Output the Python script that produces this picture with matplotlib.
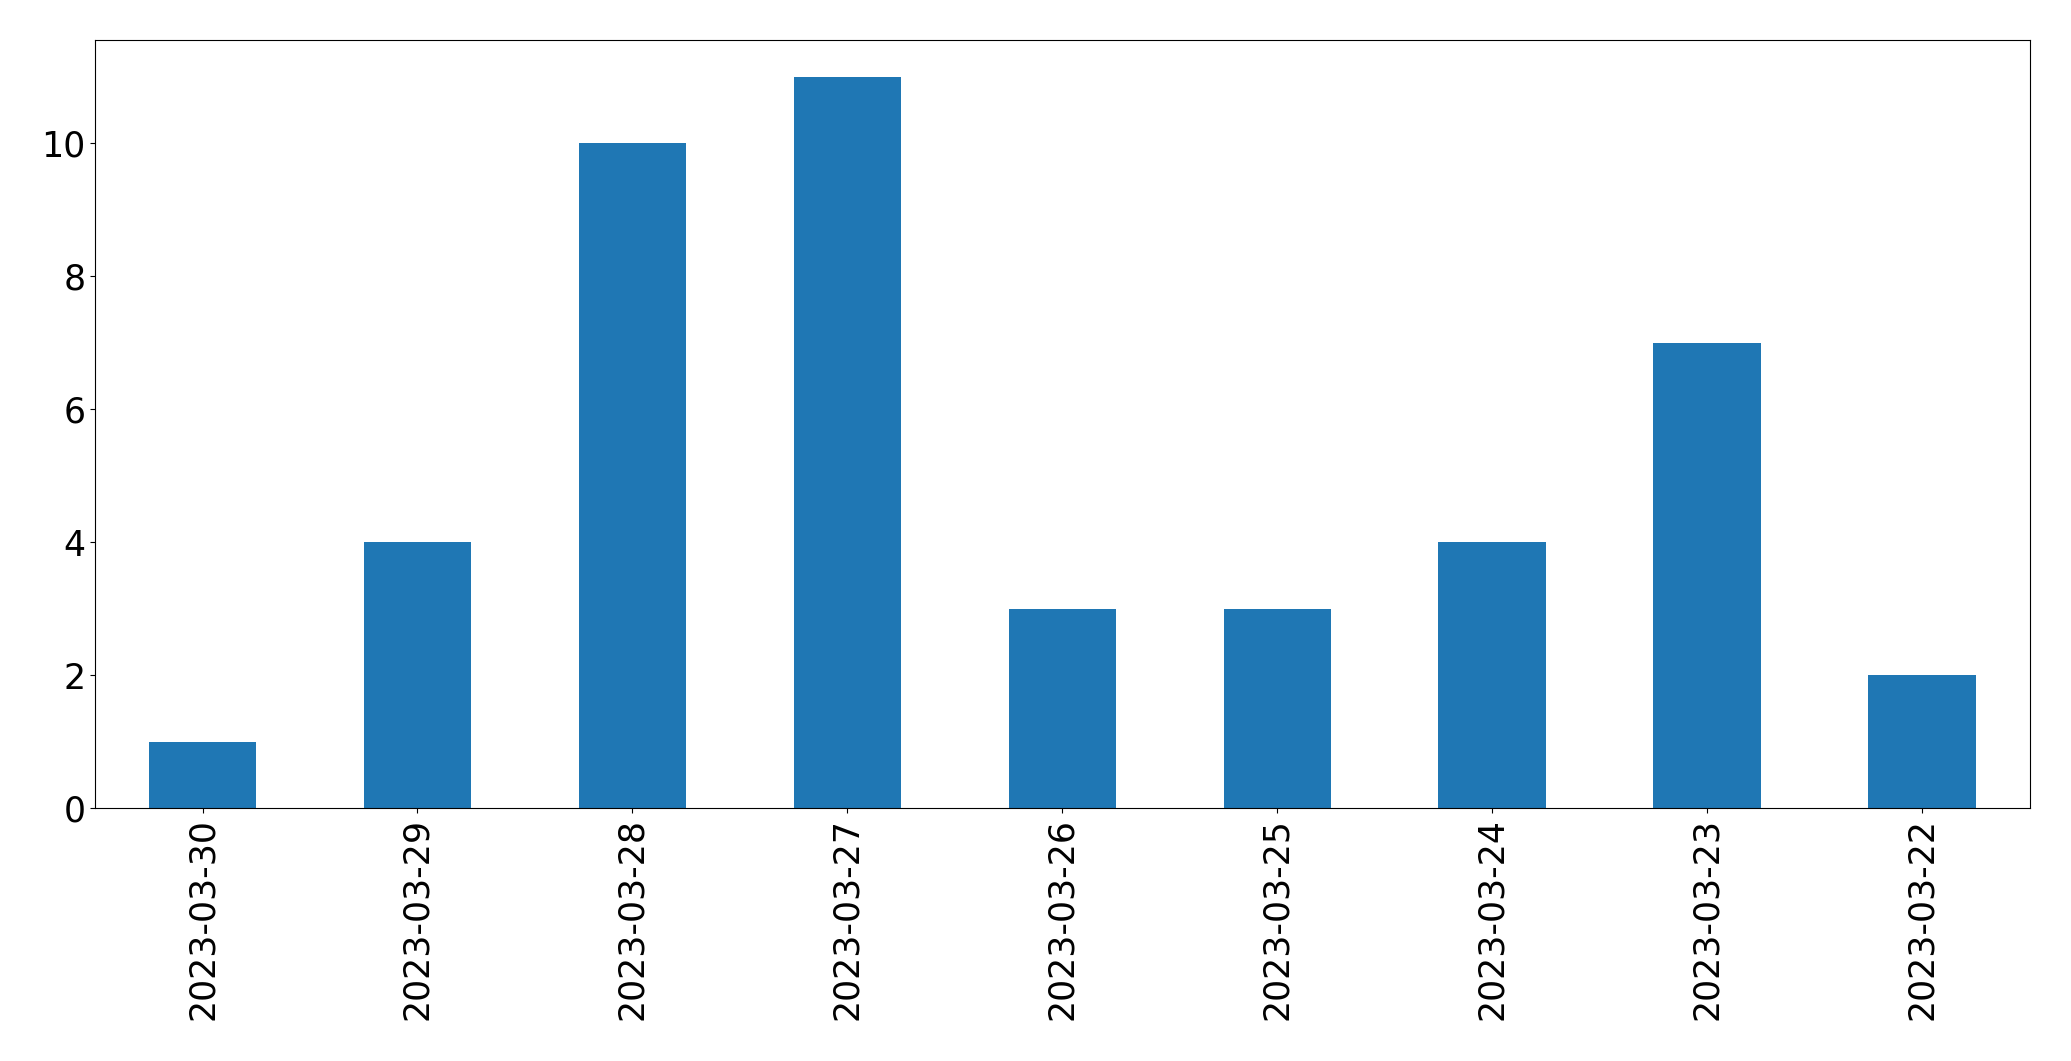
import matplotlib
matplotlib.use('Agg')
import matplotlib.pyplot as plt
import pandas as pd

# 每天的数量
dates = ['2023-03-30', '2023-03-29', '2023-03-28', '2023-03-27', '2023-03-26',
         '2023-03-25', '2023-03-24', '2023-03-23', '2023-03-22']
counts = [1, 4, 10, 11, 3, 3, 4, 7, 2]

s = pd.Series(counts, index=dates)

fig = plt.figure(figsize=(20.71, 10.61), dpi=100)
ax = fig.add_subplot(111)
s.plot(kind='bar', ax=ax, color='#1f77b4')

ax.tick_params(axis='both', labelsize=25)
plt.xticks(rotation=90)

plt.subplots_adjust(left=0.0459, right=0.980, top=0.962, bottom=0.238)
plt.savefig('out.png', dpi=100)
